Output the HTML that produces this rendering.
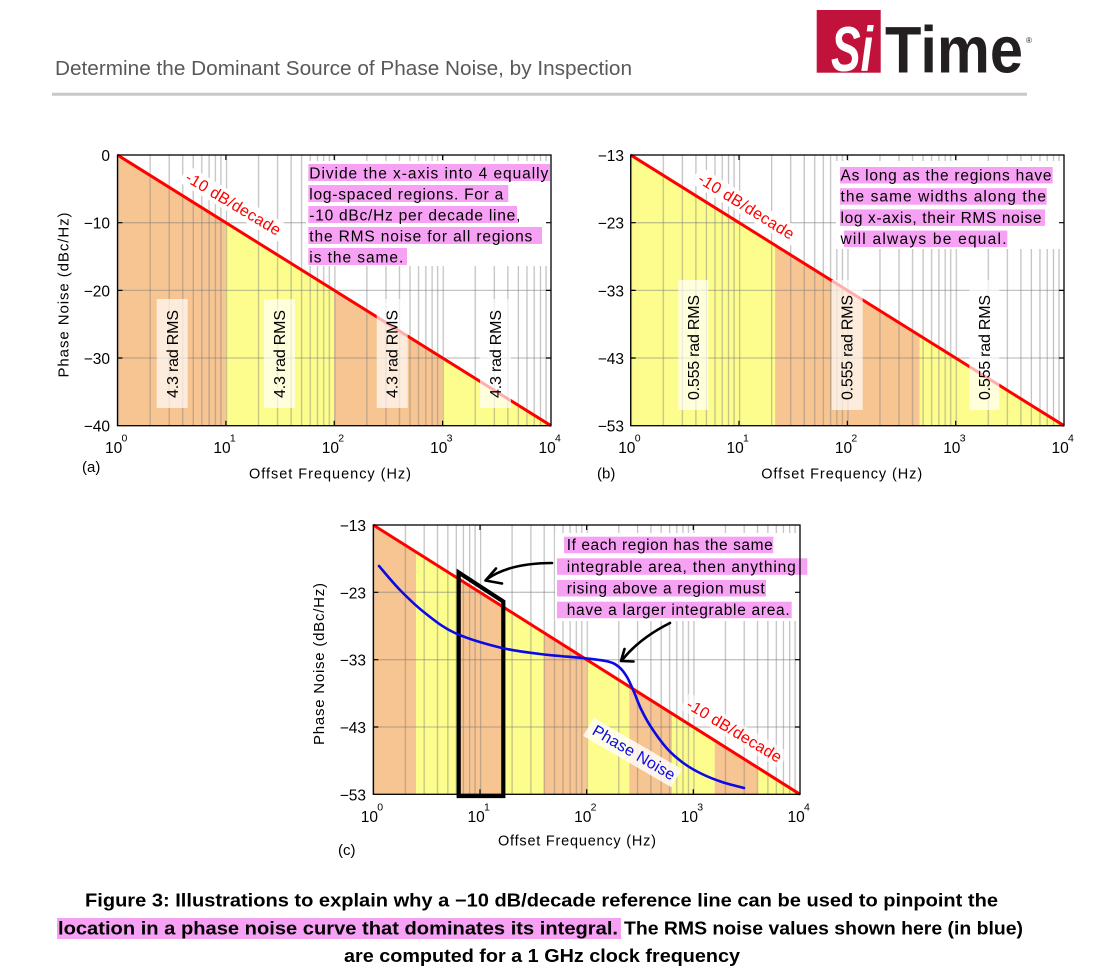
<!DOCTYPE html>
<html><head><meta charset="utf-8"><style>
html,body{margin:0;padding:0;background:#fff;}
svg{display:block;}
text{font-family:"Liberation Sans",Arial,sans-serif;}
</style></head><body>
<svg width="1111" height="977" viewBox="0 0 1111 977" xmlns="http://www.w3.org/2000/svg">
<defs>
<pattern id="ga" patternUnits="userSpaceOnUse" x="117.5" y="0" width="108.375" height="1000">
<path d="M0.6 0V1000M32.62 0V1000M51.71 0V1000M65.25 0V1000M75.75 0V1000M84.33 0V1000M91.59 0V1000M97.87 0V1000M103.42 0V1000" stroke="#7a7a7a" stroke-opacity="0.45" stroke-width="1.3" fill="none"/>
</pattern>
<pattern id="gb" patternUnits="userSpaceOnUse" x="630.7" y="0" width="108.325" height="1000">
<path d="M0.6 0V1000M32.61 0V1000M51.68 0V1000M65.22 0V1000M75.72 0V1000M84.29 0V1000M91.55 0V1000M97.83 0V1000M103.37 0V1000" stroke="#7a7a7a" stroke-opacity="0.45" stroke-width="1.3" fill="none"/>
</pattern>
<pattern id="gc" patternUnits="userSpaceOnUse" x="373.3" y="0" width="106.675" height="1000">
<path d="M0.6 0V1000M32.11 0V1000M50.90 0V1000M64.23 0V1000M74.56 0V1000M83.01 0V1000M90.15 0V1000M96.34 0V1000M101.79 0V1000" stroke="#7a7a7a" stroke-opacity="0.45" stroke-width="1.3" fill="none"/>
</pattern>
<clipPath id="ta"><polygon points="117.5,155 551,425.7 117.5,425.7"/></clipPath>
<clipPath id="tb"><polygon points="630.7,155 1064,425.7 630.7,425.7"/></clipPath>
<clipPath id="tc"><polygon points="373.3,525 800,794.3 373.3,794.3"/></clipPath>
</defs>

<!-- Header -->
<text x="55" y="75" font-size="20" fill="#595959" textLength="577" lengthAdjust="spacingAndGlyphs">Determine the Dominant Source of Phase Noise, by Inspection</text>
<rect x="816.7" y="10" width="64" height="62.7" fill="#C0123A"/>
<text x="831" y="71" font-size="63" font-weight="bold" font-style="italic" fill="#fff" textLength="42" lengthAdjust="spacingAndGlyphs">Si</text>
<text x="885" y="72.7" font-size="66" font-weight="bold" fill="#231f20" textLength="138" lengthAdjust="spacingAndGlyphs">Time</text>
<text x="1026" y="43" font-size="8" fill="#231f20">®</text>
<line x1="52" y1="94.3" x2="1027" y2="94.3" stroke="#c8c8c8" stroke-width="3"/>

<!-- ================= Chart (a) ================= -->
<g clip-path="url(#ta)">
<rect x="117.5" y="155" width="108.4" height="271" fill="#F7C592"/>
<rect x="225.9" y="155" width="108.4" height="271" fill="#FDFD8E"/>
<rect x="334.25" y="155" width="108.4" height="271" fill="#F7C592"/>
<rect x="442.6" y="155" width="108.4" height="271" fill="#FDFD8E"/>
</g>
<rect x="117.5" y="155" width="433.5" height="270.7" fill="url(#ga)"/>
<path d="M117.5 222.7H551M117.5 290.4H551M117.5 358H551" stroke="#7a7a7a" stroke-opacity="0.45" stroke-width="1.3"/>
<rect x="306" y="161" width="245" height="105" fill="#fff"/>
<rect transform="translate(233,204) rotate(31)" x="-58" y="-10" width="116" height="19" fill="#fff"/>
<line x1="117.5" y1="155" x2="551" y2="425.7" stroke="#f00" stroke-width="3"/>
<g fill="#fff" fill-opacity="0.68">
<rect x="156.7" y="299" width="31" height="109"/>
<rect x="264" y="299" width="31" height="109"/>
<rect x="376.7" y="299" width="31" height="109"/>
<rect x="480" y="299" width="31" height="109"/>
</g>
<g font-size="16" fill="#000" text-anchor="middle">
<text transform="translate(172.3,354) rotate(-90)" y="5.5" textLength="88">4.3 rad RMS</text>
<text transform="translate(279.5,354) rotate(-90)" y="5.5" textLength="88">4.3 rad RMS</text>
<text transform="translate(392.2,354) rotate(-90)" y="5.5" textLength="88">4.3 rad RMS</text>
<text transform="translate(495.3,354) rotate(-90)" y="5.5" textLength="88">4.3 rad RMS</text>
</g>
<text transform="translate(233,204) rotate(31)" y="5" text-anchor="middle" font-size="16" fill="#f00" textLength="108">-10 dB/decade</text>
<g fill="#F7A1F4">
<rect x="308.3" y="164" width="241.7" height="17"/>
<rect x="308.3" y="185" width="200" height="17"/>
<rect x="308.3" y="206" width="208.7" height="17"/>
<rect x="308.3" y="227" width="233.7" height="17"/>
<rect x="308.3" y="248" width="98.7" height="17"/>
</g>
<g font-size="15.5" fill="#000">
<text x="309.3" y="178.5" textLength="239">Divide the x-axis into 4 equally</text>
<text x="309.3" y="199.5" textLength="194">log-spaced regions. For a</text>
<text x="309.3" y="220.5" textLength="211">-10 dBc/Hz per decade line,</text>
<text x="309.3" y="241.5" textLength="223">the RMS noise for all regions</text>
<text x="309.3" y="262.5" textLength="94">is the same.</text>
</g>
<rect x="117.5" y="155" width="433.5" height="270.7" fill="none" stroke="#000" stroke-width="1.3"/>
<path d="M225.9 425.7v-5M334.25 425.7v-5M442.6 425.7v-5M225.9 155v5M334.25 155v5M442.6 155v5M117.5 222.7h5M117.5 290.4h5M117.5 358h5M551 222.7h-5M551 290.4h-5M551 358h-5" stroke="#000" stroke-width="1.2"/>
<g font-size="15.5" fill="#000" text-anchor="end">
<text x="110" y="161">0</text>
<text x="110" y="228.7">−10</text>
<text x="110" y="296.4">−20</text>
<text x="110" y="364">−30</text>
<text x="110" y="431.7">−40</text>
</g>
<g font-size="15.5" fill="#000">
<text x="105" y="453.2">10</text><text x="121.5" y="441.7" font-size="10.5">0</text>
<text x="213.4" y="453.2">10</text><text x="229.9" y="441.7" font-size="10.5">1</text>
<text x="321.75" y="453.2">10</text><text x="338.25" y="441.7" font-size="10.5">2</text>
<text x="430.1" y="453.2">10</text><text x="446.6" y="441.7" font-size="10.5">3</text>
<text x="538.5" y="453.2">10</text><text x="555" y="441.7" font-size="10.5">4</text>
</g>
<text x="82" y="472" font-size="15" fill="#000">(a)</text>
<text x="330" y="478.5" font-size="14.5" text-anchor="middle" fill="#000" textLength="162">Offset Frequency (Hz)</text>
<text transform="translate(68.5,295) rotate(-90)" text-anchor="middle" font-size="15" fill="#000" textLength="165">Phase Noise (dBc/Hz)</text>

<!-- ================= Chart (b) ================= -->
<g clip-path="url(#tb)">
<rect x="630.7" y="155" width="144.5" height="271" fill="#FDFD8E"/>
<rect x="775.13" y="155" width="144.5" height="271" fill="#F7C592"/>
<rect x="919.57" y="155" width="144.5" height="271" fill="#FDFD8E"/>
</g>
<rect x="630.7" y="155" width="433.3" height="270.7" fill="url(#gb)"/>
<path d="M630.7 222.7H1064M630.7 290.4H1064M630.7 358H1064" stroke="#7a7a7a" stroke-opacity="0.45" stroke-width="1.3"/>
<rect x="836" y="161" width="228" height="88" fill="#fff"/>
<rect transform="translate(746,206.7) rotate(32)" x="-60" y="-10" width="120" height="19" fill="#fff"/>
<line x1="630.7" y1="155" x2="1064" y2="425.7" stroke="#f00" stroke-width="3"/>
<g fill="#fff" fill-opacity="0.68">
<rect x="678.3" y="280" width="30" height="130"/>
<rect x="831.7" y="280" width="31" height="130"/>
<rect x="969.3" y="280" width="30" height="130"/>
</g>
<g font-size="16" fill="#000" text-anchor="middle">
<text transform="translate(693.3,347.5) rotate(-90)" y="5.5" textLength="105">0.555 rad RMS</text>
<text transform="translate(847.2,347.5) rotate(-90)" y="5.5" textLength="105">0.555 rad RMS</text>
<text transform="translate(984.3,347.5) rotate(-90)" y="5.5" textLength="105">0.555 rad RMS</text>
</g>
<text transform="translate(746,206.7) rotate(32)" y="5" text-anchor="middle" font-size="16" fill="#f00" textLength="110">-10 dB/decade</text>
<g fill="#F7A1F4">
<rect x="840" y="167" width="212.7" height="16.5"/>
<rect x="840" y="188.2" width="206.7" height="16.5"/>
<rect x="840" y="209.4" width="205" height="16.5"/>
<rect x="844" y="230.6" width="163.3" height="16.5"/>
</g>
<g font-size="15.5" fill="#000">
<text x="840.5" y="180.5" textLength="211">As long as the regions have</text>
<text x="840.5" y="201.7" textLength="205.5">the same widths along the</text>
<text x="840.5" y="222.9" textLength="201">log x-axis, their RMS noise</text>
<text x="840.5" y="244.1" textLength="166">will always be equal.</text>
</g>
<rect x="630.7" y="155" width="433.3" height="270.7" fill="none" stroke="#000" stroke-width="1.3"/>
<path d="M739 425.7v-5M847.35 425.7v-5M955.7 425.7v-5M739 155v5M847.35 155v5M955.7 155v5M630.7 222.7h5M630.7 290.4h5M630.7 358h5M1064 222.7h-5M1064 290.4h-5M1064 358h-5" stroke="#000" stroke-width="1.2"/>
<g font-size="15.5" fill="#000" text-anchor="end">
<text x="624" y="161">−13</text>
<text x="624" y="228.7">−23</text>
<text x="624" y="296.4">−33</text>
<text x="624" y="364">−43</text>
<text x="624" y="431.7">−53</text>
</g>
<g font-size="15.5" fill="#000">
<text x="618.2" y="453.2">10</text><text x="634.7" y="441.7" font-size="10.5">0</text>
<text x="726.5" y="453.2">10</text><text x="743" y="441.7" font-size="10.5">1</text>
<text x="834.85" y="453.2">10</text><text x="851.35" y="441.7" font-size="10.5">2</text>
<text x="943.2" y="453.2">10</text><text x="959.7" y="441.7" font-size="10.5">3</text>
<text x="1051.5" y="453.2">10</text><text x="1068" y="441.7" font-size="10.5">4</text>
</g>
<text x="597" y="478.5" font-size="15" fill="#000">(b)</text>
<text x="841.7" y="478.5" font-size="14.5" text-anchor="middle" fill="#000" textLength="161">Offset Frequency (Hz)</text>

<!-- ================= Chart (c) ================= -->
<g clip-path="url(#tc)">
<rect x="373.3" y="525" width="42.8" height="270" fill="#F7C592"/>
<rect x="416.0" y="525" width="42.8" height="270" fill="#FDFD8E"/>
<rect x="458.6" y="525" width="42.8" height="270" fill="#F7C592"/>
<rect x="501.3" y="525" width="42.8" height="270" fill="#FDFD8E"/>
<rect x="544.0" y="525" width="42.8" height="270" fill="#F7C592"/>
<rect x="586.7" y="525" width="42.8" height="270" fill="#FDFD8E"/>
<rect x="629.3" y="525" width="42.8" height="270" fill="#F7C592"/>
<rect x="672.0" y="525" width="42.8" height="270" fill="#FDFD8E"/>
<rect x="714.7" y="525" width="42.8" height="270" fill="#F7C592"/>
<rect x="757.3" y="525" width="42.8" height="270" fill="#FDFD8E"/>
</g>
<rect x="373.3" y="525" width="426.7" height="269.3" fill="url(#gc)"/>
<path d="M373.3 592.3H800M373.3 659.7H800M373.3 727H800" stroke="#7a7a7a" stroke-opacity="0.45" stroke-width="1.3"/>
<rect x="555" y="533" width="255" height="88" fill="#fff"/>
<line x1="373.3" y1="525" x2="800" y2="794.3" stroke="#f00" stroke-width="3"/>
<!-- black box -->
<path d="M458.7 796V572.5L503.3 601.5V796Z" fill="none" stroke="#000" stroke-width="4.2" stroke-linejoin="miter"/>
<!-- white boxes for rotated labels -->
<rect transform="translate(632.5,752.5) rotate(30.3)" x="-51" y="-10.5" width="102" height="21" fill="#fff" fill-opacity="0.8"/>
<rect transform="translate(734,731) rotate(31)" x="-58" y="-10" width="116" height="19" fill="#fff" fill-opacity="0.6"/>
<!-- blue curve -->
<path d="M379 566C382.5 570 392.33 582.17 400 590C407.67 597.83 415.83 605.83 425 613C434.17 620.17 442.5 627.25 455 633C467.5 638.75 485.83 644 500 647.5C514.17 651 525.83 652.2 540 654C554.17 655.8 573.67 657.05 585 658.3C596.33 659.55 602.33 660.05 608 661.5C613.67 662.95 615.83 664.42 619 667C622.17 669.58 624.5 672.83 627 677C629.5 681.17 631.67 686.67 634 692C636.33 697.33 638.17 703.17 641 709C643.83 714.83 646.67 720.42 651 727C655.33 733.58 661.5 742.42 667 748.5C672.5 754.58 678.17 759.25 684 763.5C689.83 767.75 695.67 770.92 702 774C708.33 777.08 715 779.67 722 782C729 784.33 740.33 787 744 788" fill="none" stroke="#0a0ae6" stroke-width="2.6" stroke-linecap="round"/>
<text transform="translate(634,752.5) rotate(30.3)" y="5.5" text-anchor="middle" font-size="16" fill="#0a0ae6" textLength="93">Phase Noise</text>
<text transform="translate(734,731) rotate(31)" y="5" text-anchor="middle" font-size="16" fill="#f00" textLength="108">-10 dB/decade</text>
<!-- arrows -->
<g fill="none" stroke="#000" stroke-width="2.6" stroke-linecap="round" stroke-linejoin="round">
<path d="M552 563Q510 563 487 579"/>
<path d="M496 568.5L485.5 580.5L502 583.5"/>
<path d="M670 623Q640 638 622.5 659.5"/>
<path d="M624.5 649L621 661L633.5 661.5"/>
</g>
<g fill="#F7A1F4">
<rect x="564" y="536.7" width="209.3" height="16.5"/>
<rect x="557" y="558.3" width="250.3" height="16.5"/>
<rect x="557" y="580" width="209" height="16.5"/>
<rect x="557" y="601.7" width="234.7" height="16.5"/>
</g>
<g font-size="15.5" fill="#000">
<text x="566.7" y="550.2" textLength="206">If each region has the same</text>
<text x="566.7" y="571.8" textLength="229">integrable area, then anything</text>
<text x="566.7" y="593.5" textLength="198">rising above a region must</text>
<text x="566.7" y="615.2" textLength="223">have a larger integrable area.</text>
</g>
<rect x="373.3" y="525" width="426.7" height="269.3" fill="none" stroke="#000" stroke-width="1.3"/>
<path d="M480 794.3v-5M586.65 794.3v-5M693.3 794.3v-5M480 525v5M586.65 525v5M693.3 525v5M373.3 592.3h5M373.3 659.7h5M373.3 727h5M800 592.3h-5M800 659.7h-5M800 727h-5" stroke="#000" stroke-width="1.2"/>
<g font-size="15.5" fill="#000" text-anchor="end">
<text x="366" y="531">−13</text>
<text x="366" y="598.3">−23</text>
<text x="366" y="665.7">−33</text>
<text x="366" y="733">−43</text>
<text x="366" y="800.3">−53</text>
</g>
<g font-size="15.5" fill="#000">
<text x="360.8" y="821.8">10</text><text x="377.3" y="810.3" font-size="10.5">0</text>
<text x="467.5" y="821.8">10</text><text x="484" y="810.3" font-size="10.5">1</text>
<text x="574.15" y="821.8">10</text><text x="590.65" y="810.3" font-size="10.5">2</text>
<text x="680.8" y="821.8">10</text><text x="697.3" y="810.3" font-size="10.5">3</text>
<text x="787.5" y="821.8">10</text><text x="804" y="810.3" font-size="10.5">4</text>
</g>
<text x="338" y="855" font-size="15" fill="#000">(c)</text>
<text x="577" y="845.5" font-size="14.5" text-anchor="middle" fill="#000" textLength="158">Offset Frequency (Hz)</text>
<text transform="translate(324,664) rotate(-90)" text-anchor="middle" font-size="15" fill="#000" textLength="162">Phase Noise (dBc/Hz)</text>

<!-- Caption -->
<rect x="57" y="918" width="564" height="21" fill="#F7A1F4"/>
<g font-size="18" font-weight="bold" fill="#000">
<text x="85" y="906.5" textLength="913" lengthAdjust="spacingAndGlyphs">Figure 3: Illustrations to explain why a −10 dB/decade reference line can be used to pinpoint the</text>
<text x="58" y="934.5" textLength="560" lengthAdjust="spacingAndGlyphs">location in a phase noise curve that dominates its integral.</text>
<text x="624" y="934.5" textLength="399" lengthAdjust="spacingAndGlyphs">The RMS noise values shown here (in blue)</text>
<text x="344" y="962" textLength="396" lengthAdjust="spacingAndGlyphs">are computed for a 1 GHz clock frequency</text>
</g>
</svg>
</body></html>
